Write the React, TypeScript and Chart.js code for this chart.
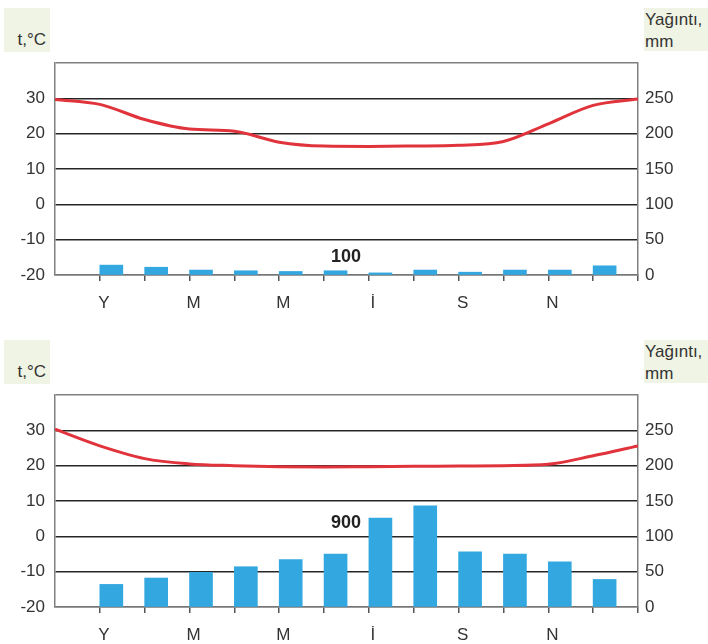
import React, { useEffect, useRef } from "react";
import { Chart, registerables } from "chart.js";

Chart.register(...registerables);

// ---- data ----
const monthTicks: Record<number, string> = { 1: "Y", 3: "M", 5: "M", 7: "İ", 9: "S", 11: "N" };
const tempTicks = [-20, -10, 0, 10, 20, 30];
const precipTicks = [0, 50, 100, 150, 200, 250];

// chart A (annual precipitation 100 mm)
const tempA = [29.7, 28.3, 24.0, 21.3, 20.7, 17.6, 16.5, 16.4, 16.5, 16.7, 17.8, 22.8, 28.0, 29.8];
const precipA = [14, 11, 7, 6, 5, 6, 3, 7, 4, 7, 7, 13];
const totalA = "100";

// chart B (annual precipitation 900 mm)
const tempB = [30.3, 25.6, 22.0, 20.5, 20.0, 19.7, 19.6, 19.7, 19.8, 19.9, 20.0, 20.4, 22.8, 25.6];
const precipB = [32, 41, 49, 57, 67, 75, 126, 143, 78, 75, 64, 39];
const totalB = "900";

const FONT = "'Liberation Sans', Arial, Helvetica, sans-serif";
const BAR_COLOR = "#33a8e0";
const LINE_COLOR = "#e0333b";
const BOX_BG = "#f0f4e4";

function ClimateChart({ temp, precip }: { temp: number[]; precip: number[] }) {
  const ref = useRef<HTMLCanvasElement | null>(null);
  useEffect(() => {
    if (!ref.current) return;
    const barShift = 0.256;
    const zeroPad = (s: any) => {
      s.paddingTop = 0;
      s.paddingBottom = 0;
    };
    const chart = new Chart(ref.current, {
      data: {
        datasets: [
          {
            type: "line",
            data: temp.map((v, i) => ({ x: i, y: v })),
            borderColor: LINE_COLOR,
            borderWidth: 3,
            pointRadius: 0,
            cubicInterpolationMode: "monotone",
            yAxisID: "y",
            order: 0,
          } as any,
          {
            type: "bar",
            data: precip.map((v, i) => ({ x: i + 1 + barShift, y: v })),
            backgroundColor: BAR_COLOR,
            barThickness: 23,
            yAxisID: "y1",
            order: 1,
          } as any,
        ],
      },
      options: {
        animation: false,
        responsive: false,
        maintainAspectRatio: false,
        layout: { padding: { top: 13, left: 0, right: 0, bottom: 0 } },
        plugins: { legend: { display: false }, tooltip: { enabled: false } },
        scales: {
          x: {
            type: "linear",
            min: 0,
            max: 13,
            offset: false,
            afterFit: (s: any) => {
              s.height = 45;
              s.paddingLeft = 0;
              s.paddingRight = 0;
            },
            ticks: {
              stepSize: 1,
              autoSkip: false,
              maxRotation: 0,
              labelOffset: 4,
              padding: 12,
              color: "#333",
              font: { family: FONT, size: 17 },
              callback: (v: any) => monthTicks[v as number] ?? "",
            },
            grid: {
              offset: false,
              drawOnChartArea: false,
              drawTicks: true,
              tickLength: 6,
              tickColor: (ctx: any) => (ctx.tick && ctx.tick.value === 0 ? "rgba(0,0,0,0)" : "#555"),
              lineWidth: 1.5,
            },
            border: { display: true, color: "#777", width: 1.5 },
          },
          y: {
            type: "linear",
            position: "left",
            min: -20,
            max: 40,
            afterFit: (s: any) => {
              s.width = 55;
              zeroPad(s);
            },
            afterBuildTicks: (s: any) => {
              s.ticks = [...tempTicks, 40].map((v) => ({ value: v }));
            },
            ticks: {
              padding: 10,
              color: "#333",
              font: { family: FONT, size: 17 },
              callback: (v: any) => (v === 40 ? "" : String(v)),
            },
            grid: {
              drawTicks: false,
              color: (ctx: any) => (ctx.tick && (ctx.tick.value === 40 || ctx.tick.value === -20) ? "#808080" : "#262626"),
              lineWidth: 1.4,
            },
            border: { display: true, color: "#808080", width: 1.5 },
          },
          y1: {
            type: "linear",
            position: "right",
            min: 0,
            max: 300,
            afterFit: (s: any) => {
              s.width = 70;
              zeroPad(s);
            },
            afterBuildTicks: (s: any) => {
              s.ticks = precipTicks.map((v) => ({ value: v }));
            },
            ticks: {
              padding: 7,
              color: "#333",
              font: { family: FONT, size: 17 },
            },
            grid: { drawOnChartArea: false, drawTicks: false },
            border: { display: true, color: "#808080", width: 1.5 },
          },
        },
      },
    });
    return () => chart.destroy();
  }, [temp, precip]);
  return <canvas ref={ref} width={708} height={270} style={{ display: "block", width: 708, height: 270 }} />;
}

function Panel({
  top,
  temp,
  precip,
  total,
  totalTop,
}: {
  top: number;
  temp: number[];
  precip: number[];
  total: string;
  totalTop: number;
}) {
  return (
    <div style={{ position: "absolute", left: 0, top, width: 708, height: 320 }}>
      <div
        style={{
          position: "absolute",
          left: 4,
          top: 8,
          width: 46,
          height: 44,
          background: BOX_BG,
          fontFamily: FONT,
          fontSize: 17,
          color: "#333",
          boxSizing: "border-box",
        }}
      >
        <span style={{ position: "absolute", right: 4, top: 22, lineHeight: "20px" }}>t,°C</span>
      </div>
      <div
        style={{
          position: "absolute",
          left: 644,
          top: 8,
          width: 64,
          height: 43,
          background: BOX_BG,
          fontFamily: FONT,
          fontSize: 17,
          color: "#333",
          lineHeight: "22px",
          whiteSpace: "nowrap",
        }}
      >
        <div style={{ position: "absolute", left: 1, top: 1 }}>Yağıntı,</div>
        <div style={{ position: "absolute", left: 1, top: 23 }}>mm</div>
      </div>
      <div style={{ position: "absolute", left: 0, top: 50 }}>
        <ClimateChart temp={temp} precip={precip} />
      </div>
      <div
        style={{
          position: "absolute",
          left: 331,
          top: totalTop,
          fontFamily: FONT,
          fontSize: 18,
          fontWeight: "bold",
          color: "#222",
          lineHeight: "20px",
        }}
      >
        {total}
      </div>
    </div>
  );
}

export default function App() {
  return (
    <div style={{ position: "fixed", left: 0, top: 0, width: 708, height: 644, background: "#fff", overflow: "hidden" }}>
      <Panel top={0} temp={tempA} precip={precipA} total={totalA} totalTop={246} />
      <Panel top={332} temp={tempB} precip={precipB} total={totalB} totalTop={180} />
    </div>
  );
}
